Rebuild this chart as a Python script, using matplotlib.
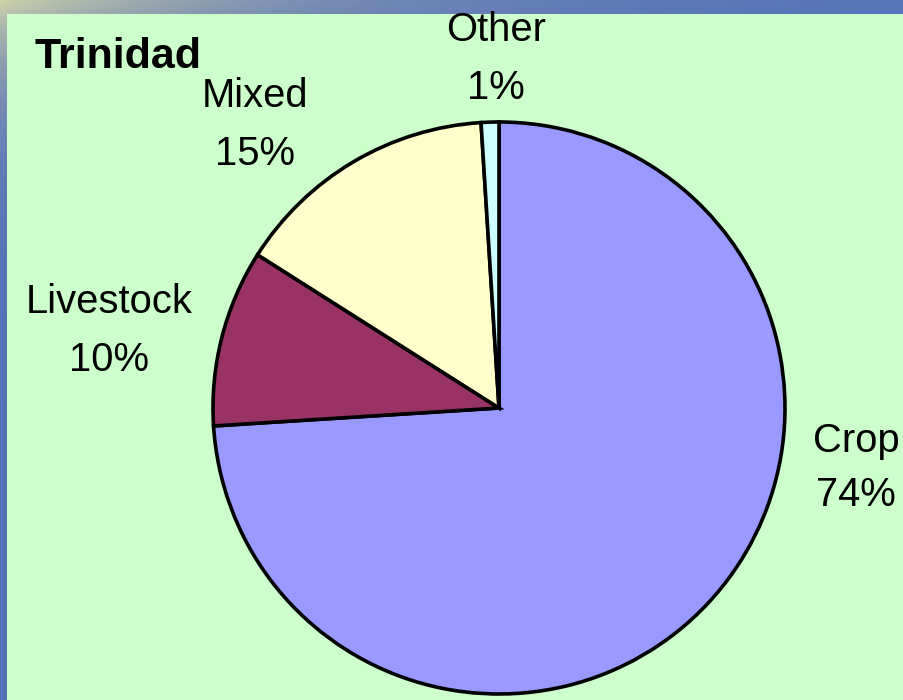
import matplotlib
matplotlib.use("Agg")
import matplotlib.pyplot as plt
import numpy as np

categories = ["Crop", "Livestock", "Mixed", "Other"]
values = [74, 10, 15, 1]
pct_labels = ["74%", "10%", "15%", "1%"]
colors = ["#9999FF", "#993366", "#FFFFCC", "#CCFFFF"]
title = "Trinidad"

W, H = 904, 700
fig = plt.figure(figsize=(W / 100, H / 100), dpi=100)
plt.rcParams['font.family'] = ['Liberation Sans', 'DejaVu Sans']

# background frame (blue-ish slide backdrop)
bg = fig.add_axes([0, 0, 1, 1])
xx, yy = np.meshgrid(np.linspace(0, 1, 200), np.linspace(0, 1, 200))
w = np.exp(-xx / 0.3) * np.exp(-yy / 0.12)
warm = np.array([0.80, 0.82, 0.66])
blue = np.array([0.33, 0.44, 0.72])
img = warm[None, None, :] * w[..., None] + blue[None, None, :] * (1 - w[..., None])
bg.imshow(img, aspect='auto', extent=[0, 1, 0, 1], origin='upper')
bg.set_axis_off()

# plot area (green)
ax = fig.add_axes([7 / W, 0, (W - 7) / W, (H - 14) / H])
ax.set_facecolor("#CCFFCC")
for s in ax.spines.values():
    s.set_visible(False)
ax.set_xticks([])
ax.set_yticks([])

def py(y):
    return H - y  # convert pixel-from-top to data y

ax.pie(values, colors=colors, startangle=90, counterclock=False,
       center=(499, py(408)), radius=286, frame=True,
       wedgeprops=dict(edgecolor='black', linewidth=2.6))
ax.set_aspect('equal', adjustable='datalim')
ax.set_xlim(7, W)
ax.set_ylim(0, H - 14)

label_pos = [(856, 468), (109, 331), (255, 125), (496, 59)]
spacing = [1.55, 1.65, 1.65, 1.65]
for cat, pct, (x, y), ls in zip(categories, pct_labels, label_pos, spacing):
    ax.text(x, py(y), f"{cat}\n{pct}", ha='center', va='center',
            fontsize=28.8, linespacing=ls, color='black')

ax.text(35, py(57), title, ha='left', va='center', fontsize=31,
        fontweight='bold', color='black')

fig.savefig("out.png", dpi=100)
